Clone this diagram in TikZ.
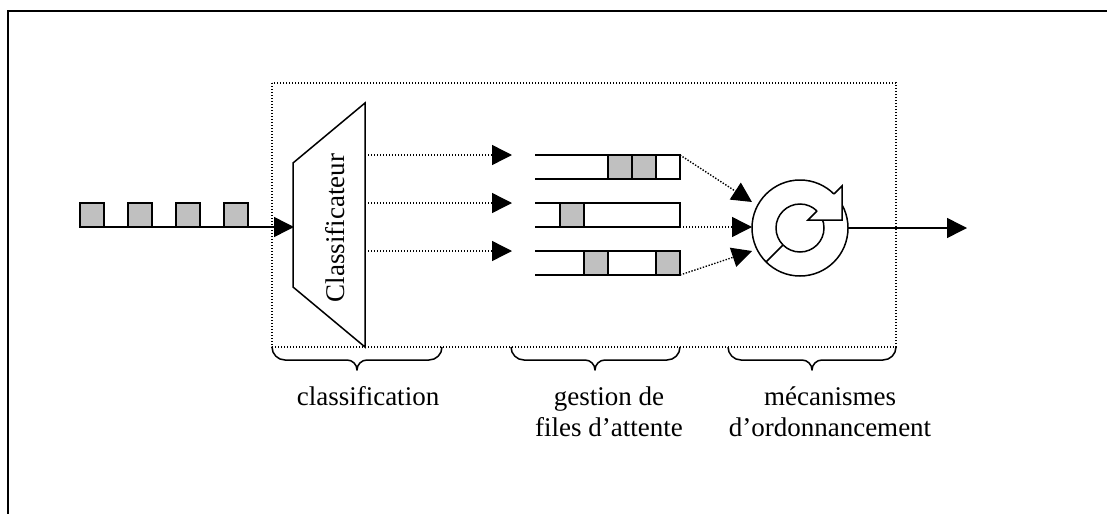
\documentclass[tikz,border=0pt]{standalone}
\usepackage{fontspec}
\setmainfont{Liberation Serif}
\usetikzlibrary{arrows.meta}
\definecolor{pktgray}{HTML}{C0C0C0}
\begin{document}
\begin{tikzpicture}[x=1pt,y=-1pt,
  pkt/.style={draw,fill=pktgray,line width=1.5pt,minimum size=24pt,inner sep=0pt,outer sep=0pt},
  dots/.style={line width=1.4pt,dash pattern=on 1.4pt off 1.6pt},
  tip/.style={-{Triangle[length=20pt,width=20pt]}},
  solidline/.style={line width=1.5pt},
  lbl/.style={font=\fontsize{27}{31}\selectfont,inner sep=0pt,align=center,anchor=base},
  brc/.style={line width=1.5pt,line join=round}
]
\useasboundingbox (0,0) rectangle (1107,514);
% outer frame (top and left only)
\draw[line width=2.2pt] (1107,11) -- (8,11) -- (8,514);
% dotted zone
\draw[dots] (272,83) rectangle (896,347);

% input packets
\node[pkt] (p1) at (92,215) {};
\node[pkt] (p2) at (140,215) {};
\node[pkt] (p3) at (188,215) {};
\node[pkt] (p4) at (236,215) {};

% classifier trapezoid
\draw[solidline,line join=miter] (293,163) -- (365,103) -- (365,347) -- (293,287) -- cycle;
\node[font=\fontsize{27}{31}\selectfont,rotate=90,anchor=base,inner sep=0pt] (cls) at (344,228) {Classificateur};
\coordinate (clsin) at (294,227);
\draw[solidline,tip] (p1.south west) -- (clsin);

% classifier outputs
\coordinate (o1) at (365,155); \coordinate (i1) at (512,155);
\coordinate (o2) at (365,203); \coordinate (i2) at (512,203);
\coordinate (o3) at (365,251); \coordinate (i3) at (512,251);
\draw[dots,tip] (o1) -- (i1);
\draw[dots,tip] (o2) -- (i2);
\draw[dots,tip] (o3) -- (i3);

% queues
\draw[solidline] (535,155) -- (680,155) -- (680,179) -- (535,179);
\draw[solidline] (535,203) -- (680,203) -- (680,227) -- (535,227);
\draw[solidline] (535,251) -- (680,251) -- (680,275) -- (535,275);
\node[pkt] (q1a) at (620,167) {};
\node[pkt] (q1b) at (644,167) {};
\node[pkt] (q2a) at (572,215) {};
\node[pkt] (q3a) at (596,263) {};
\node[pkt] (q3b) at (668,263) {};
\coordinate (e1) at (680,155);
\coordinate (e2) at (680,227);
\coordinate (e3) at (680,275);

% scheduler
\node[circle,draw,solidline,minimum size=96pt,inner sep=0pt,outer sep=0pt] (sched) at (800,228) {};
\draw[solidline] (sched.center) circle (24);
\draw[solidline] (783,245) -- (766,262);
\fill[white] (808,220) -- (842,186) -- (842,220) -- cycle;
\draw[solidline,line join=miter] (817,211) -- (808,220) -- (842,220) -- (842,186) -- (834,194);

\coordinate (s1) at (752,202);
\coordinate (s2) at (752,227);
\coordinate (s3) at (752,251);
\draw[dots,tip] (e1) -- (s1);
\draw[dots,tip] (e2) -- (s2);
\draw[dots,tip] (e3) -- (s3);

\coordinate (out) at (967,228);
\draw[solidline,tip] (sched.east) -- (out);

% braces
\draw[brc] (272,347) to[out=-90,in=180] (285,360) -- (347,360) to[out=0,in=90] (357,370) to[out=90,in=180] (367,360) -- (429,360) to[out=0,in=-90] (442,347);
\draw[brc] (511,347) to[out=-90,in=180] (524,360) -- (585,360) to[out=0,in=90] (595,370) to[out=90,in=180] (605,360) -- (667,360) to[out=0,in=-90] (680,347);
\draw[brc] (728,347) to[out=-90,in=180] (741,360) -- (802,360) to[out=0,in=90] (812,370) to[out=90,in=180] (822,360) -- (883,360) to[out=0,in=-90] (896,347);

% labels
\node[lbl] (l1) at (368,405) {classification};
\node[lbl] (l2) at (609,436) {gestion de\\files d’attente};
\node[lbl] (l3) at (830,436) {mécanismes\\d’ordonnancement};
\end{tikzpicture}
\end{document}
